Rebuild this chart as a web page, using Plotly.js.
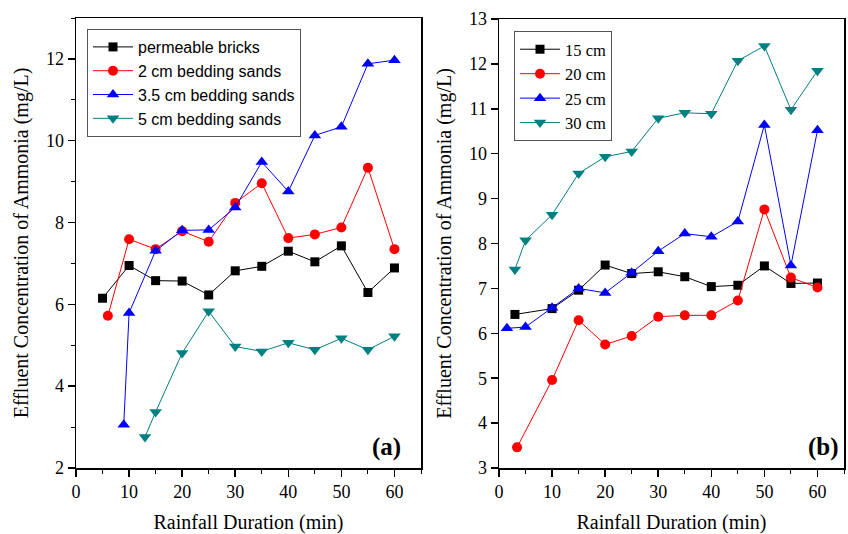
<!DOCTYPE html>
<html>
<head>
<meta charset="utf-8">
<script src="https://cdn.plot.ly/plotly-3.0.1.min.js"></script>
<style>html,body{margin:0;padding:0;background:#fff;}#chart{width:848px;height:534px;}</style>
</head>
<body>
<div id="chart"></div>
<script>
// Panel (a)
const aBricksX = [5, 10, 15, 20, 25, 30, 35, 40, 45, 50, 55, 60];
const aBricksY = [6.15, 6.95, 6.58, 6.57, 6.23, 6.82, 6.93, 7.30, 7.04, 7.43, 6.29, 6.89];
const a2cmX = [6, 10, 15, 20, 25, 30, 35, 40, 45, 50, 55, 60];
const a2cmY = [5.72, 7.59, 7.35, 7.79, 7.53, 8.48, 8.96, 7.62, 7.71, 7.88, 9.34, 7.35];
const a35cmX = [9, 10, 15, 20, 25, 30, 35, 40, 45, 50, 55, 60];
const a35cmY = [3.06, 5.79, 7.31, 7.81, 7.82, 8.37, 9.48, 8.76, 10.13, 10.34, 11.88, 11.97];
const a5cmX = [13, 15, 20, 25, 30, 35, 40, 45, 50, 55, 60];
const a5cmY = [2.76, 3.37, 4.81, 5.83, 4.97, 4.85, 5.06, 4.89, 5.17, 4.89, 5.22];
const aNames = ["permeable bricks", "2 cm bedding sands", "3.5 cm bedding sands", "5 cm bedding sands"];

// Panel (b)
const b15X = [3, 10, 15, 20, 25, 30, 35, 40, 45, 50, 55, 60];
const b15Y = [6.42, 6.55, 6.96, 7.52, 7.33, 7.37, 7.26, 7.04, 7.07, 7.50, 7.11, 7.12];
const b20X = [3.4, 10, 15, 20, 25, 30, 35, 40, 45, 50, 55, 60];
const b20Y = [3.46, 4.96, 6.29, 5.75, 5.94, 6.37, 6.40, 6.40, 6.73, 8.76, 7.24, 7.02];
const b25X = [1.5, 5, 10, 15, 20, 25, 30, 35, 40, 45, 50, 55, 60];
const b25Y = [6.11, 6.14, 6.57, 7.00, 6.90, 7.35, 7.83, 8.22, 8.15, 8.49, 10.64, 7.51, 10.52];
const b30X = [3, 5, 10, 15, 20, 25, 30, 35, 40, 45, 50, 55, 60];
const b30Y = [7.42, 8.07, 8.64, 9.56, 9.93, 10.05, 10.79, 10.91, 10.89, 12.07, 12.40, 10.98, 11.85];
const bNames = ["15 cm", "20 cm", "25 cm", "30 cm"];

const xTitle = "Rainfall Duration (min)";
const yTitle = "Effluent Concentration of Ammonia (mg/L)";

const colors = ["#000000", "#ff0000", "#0000ff", "#008080"];
const symbols = ["square", "circle", "triangle-up", "triangle-down"];
const sizes = [9, 10, 11, 11];

function tr(x, y, i, name, xa, ya, leg) {
  return {
    x: x, y: y, name: name, type: "scatter", mode: "lines+markers",
    xaxis: xa, yaxis: ya, legend: leg,
    line: {color: colors[i], width: 1},
    marker: {color: colors[i], symbol: symbols[i], size: sizes[i], line: {width: 0}}
  };
}

const data = [
  tr(aBricksX, aBricksY, 0, aNames[0], "x", "y", "legend"),
  tr(a2cmX, a2cmY, 1, aNames[1], "x", "y", "legend"),
  tr(a35cmX, a35cmY, 2, aNames[2], "x", "y", "legend"),
  tr(a5cmX, a5cmY, 3, aNames[3], "x", "y", "legend"),
  tr(b15X, b15Y, 0, bNames[0], "x2", "y2", "legend2"),
  tr(b20X, b20Y, 1, bNames[1], "x2", "y2", "legend2"),
  tr(b25X, b25Y, 2, bNames[2], "x2", "y2", "legend2"),
  tr(b30X, b30Y, 3, bNames[3], "x2", "y2", "legend2")
];

const serif = "Liberation Serif, Times New Roman, serif";
const tickFont = {family: serif, size: 18, color: "#000"};
const titleFont = {family: serif, size: 20, color: "#000"};

function xax(domain, anchor) {
  return {
    domain: domain, anchor: anchor, range: [0, 65], dtick: 10, tick0: 0,
    ticks: "outside", ticklen: 7, tickwidth: 1.5, tickcolor: "#000",
    showline: true, linecolor: "#000", linewidth: 1.5, mirror: true,
    showgrid: false, zeroline: false, tickfont: tickFont,
    minor: {dtick: 5, ticks: "outside", ticklen: 4, tickcolor: "#000", tickwidth: 1},
    title: {text: xTitle, font: titleFont, standoff: 18}
  };
}
function topAx(over, anchor) {
  return {
    overlaying: over, anchor: anchor, side: "top", range: [0, 65], dtick: 5, tick0: 0,
    ticks: "inside", ticklen: 3, tickwidth: 1, tickcolor: "#000",
    showticklabels: false, showline: false, showgrid: false, zeroline: false
  };
}
function yax(domain, anchor, range, dtick, minor) {
  const a = {
    domain: domain, anchor: anchor, range: range, dtick: dtick,
    ticks: "outside", ticklen: 7, tickwidth: 1.5, tickcolor: "#000",
    showline: true, linecolor: "#000", linewidth: 1.5, mirror: true,
    showgrid: false, zeroline: false, tickfont: tickFont,
    title: {text: yTitle, font: titleFont, standoff: 12}
  };
  if (minor) a.minor = {dtick: minor, ticks: "outside", ticklen: 4, tickcolor: "#000", tickwidth: 1};
  return a;
}

const layout = {
  width: 848, height: 534,
  margin: {l: 0, r: 0, t: 0, b: 0},
  paper_bgcolor: "#fff", plot_bgcolor: "#fff",
  xaxis: xax([76/848, 421/848], "y"),
  yaxis: yax([1 - 468/534, 1 - 18/534], "x", [2, 13], 2, 1),
  xaxis2: xax([499/848, 844/848], "y2"),
  yaxis2: yax([1 - 468/534, 1 - 19/534], "x2", [3, 13], 1, null),
  xaxis3: topAx("x", "y"),
  xaxis4: topAx("x2", "y2"),
  showlegend: true,
  legend: {
    x: 87/848, y: 1 - 29/534, xanchor: "left", yanchor: "top",
    bgcolor: "rgba(255,255,255,1)", bordercolor: "#555", borderwidth: 1,
    font: {family: "Liberation Sans, Arial, sans-serif", size: 16, color: "#000"},
    itemwidth: 40, tracegroupgap: 0
  },
  legend2: {
    x: 514/848, y: 1 - 31/534, xanchor: "left", yanchor: "top",
    bgcolor: "rgba(255,255,255,1)", bordercolor: "#555", borderwidth: 1,
    font: {family: serif, size: 16.5, color: "#000"},
    itemwidth: 40, tracegroupgap: 0
  },
  annotations: [
    {text: "<b>(a)</b>", xref: "paper", yref: "paper", x: 403/848, y: 1 - 447/534,
     xanchor: "right", yanchor: "middle", showarrow: false,
     font: {family: serif, size: 25, color: "#000"}},
    {text: "<b>(b)</b>", xref: "paper", yref: "paper", x: 841/848, y: 1 - 447/534,
     xanchor: "right", yanchor: "middle", showarrow: false,
     font: {family: serif, size: 25, color: "#000"}}
  ]
};

Plotly.newPlot("chart", data, layout, {displayModeBar: false, staticPlot: true});
</script>
</body>
</html>
